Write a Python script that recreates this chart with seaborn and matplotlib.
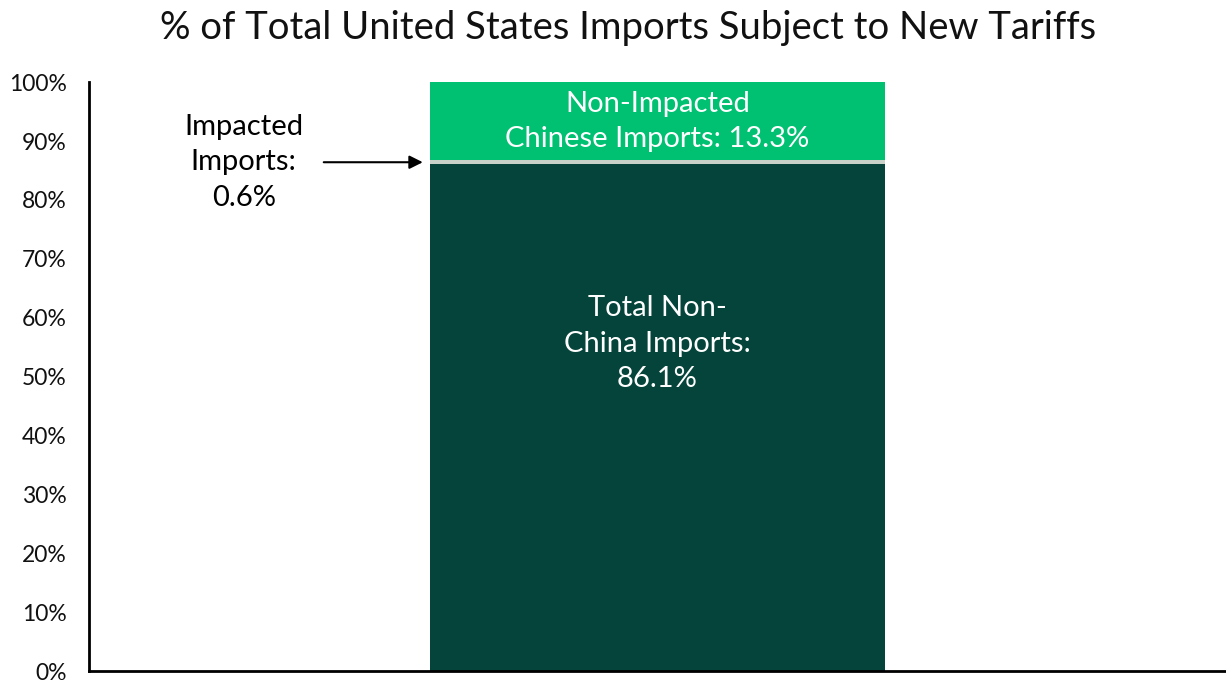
import matplotlib
matplotlib.use("Agg")
import matplotlib.pyplot as plt
import seaborn as sns
import numpy as np
import pandas as pd

segments = ["Total Non-China Imports", "Impacted Imports", "Non-Impacted Chinese Imports"]
values = [86.1, 0.6, 13.3]
colors = ["#05443a", "#c9d2c8", "#00c072"]
category = ["US Imports"]
yticks = [0, 10, 20, 30, 40, 50, 60, 70, 80, 90, 100]
ytick_labels = [f"{v}%" for v in yticks]

sns.set_theme(style="white")
plt.rcParams["font.family"] = ["Lato", "DejaVu Sans"]

fig = plt.figure(figsize=(12.26, 6.8), dpi=100)
ax = fig.add_axes([0.0726, 0.0132, 0.9274, 0.866])

cum = np.cumsum(values)
# draw from top down so lower segments overlay
for i in range(len(values) - 1, -1, -1):
    df = pd.DataFrame({"cat": category, "val": [cum[i]]})
    sns.barplot(data=df, x="cat", y="val", color=colors[i], width=1.0,
                saturation=1, ax=ax, linewidth=0, edgecolor="none")

ax.set_xlim(-1.25, 1.25)
ax.set_ylim(0, 100)
ax.set_yticks(yticks)
ax.set_yticklabels(ytick_labels, fontsize=16.5, color="#111111")
ax.set_xticks([])
ax.set_xlabel("")
ax.set_ylabel("")
ax.tick_params(axis="y", length=0, pad=16)
for s in ["top", "right"]:
    ax.spines[s].set_visible(False)
for s in ["left", "bottom"]:
    ax.spines[s].set_color("black")
    ax.spines[s].set_linewidth(2)

# labels
ax.text(0, cum[0] / 2 + 12.5, "Total Non-\nChina Imports:\n86.1%", ha="center", va="center",
        color="white", fontsize=21, linespacing=1.45)
ax.text(0, (cum[1] + cum[2]) / 2, "Non-Impacted\nChinese Imports: 13.3%", ha="center", va="center",
        color="white", fontsize=21, linespacing=1.45)
ax.annotate("", xy=(-0.51, cum[0] + values[1] / 2), xytext=(-0.74, cum[0] + values[1] / 2),
            arrowprops=dict(arrowstyle="-|>", color="black", lw=1.5, mutation_scale=20))
ax.text(-0.91, cum[0] + values[1] / 2, "Impacted\nImports:\n0.6%", ha="center", va="center",
        color="black", fontsize=21, linespacing=1.45)

fig.suptitle("% of Total United States Imports Subject to New Tariffs", fontsize=27.5,
             y=0.985, x=0.512, color="#111111")

fig.savefig("out.png", dpi=100)
